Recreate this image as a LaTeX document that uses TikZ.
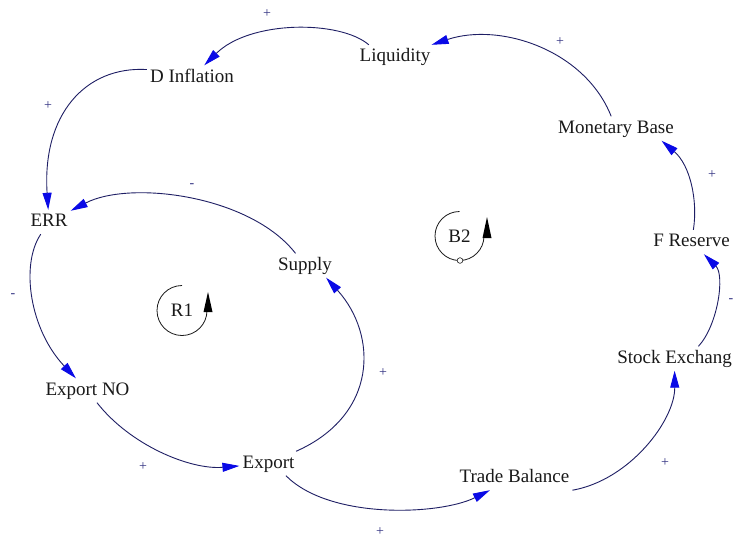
\documentclass[tikz,border=0pt]{standalone}
\usepackage{fontspec}
\setmainfont{Liberation Serif}
\usetikzlibrary{arrows.meta}
\definecolor{linenavy}{RGB}{30,30,100}
\definecolor{headblue}{RGB}{10,10,230}
\definecolor{polnavy}{RGB}{50,50,130}
\definecolor{txt}{RGB}{25,25,25}
\begin{document}
\begin{tikzpicture}[x=1pt,y=1pt,
 var/.style={font=\fontsize{19}{22}\selectfont, text=txt, text height=13.3pt, text depth=4.2pt, inner xsep=3pt, inner ysep=3.25pt},
 link/.style={draw=linenavy, line width=0.9pt, -{Triangle[length=17pt,width=9pt,color=headblue]}},
 pol/.style={font=\fontsize{14}{16}\selectfont, text=polnavy, inner sep=0pt},
 loopname/.style={font=\fontsize{19}{22}\selectfont, text=txt},
 loopline/.style={draw=txt, line width=0.8pt},
]
\useasboundingbox (0,0) rectangle (736,-539);
\fill[white] (0,0) rectangle (736,-539);
\clip (0,0) rectangle (736,-539);

% variables
\node[var] (liq)   at (395,-57)    {Liquidity};
\node[var] (dinf)  at (192,-77.5)  {D Inflation};
\node[var] (mb)    at (616,-128.5) {Monetary Base};
\node[var] (err)   at (49,-222)    {ERR};
\node[var] (sup)   at (305,-265.5) {Supply};
\node[var] (fres)  at (691.5,-242) {F Reserve};
\node[var] (expno) at (87.5,-390.5){Export NO};
\node[var] (sex)   at (674.5,-358.5){Stock Exchang};
\node[var] (exp)   at (268.5,-463.5){Export};
\node[var] (tb)    at (514.5,-478) {Trade Balance};

% links
\draw[link] (liq.155) .. controls (340,-20) and (250,-20) .. (dinf);
\draw[link] (mb) .. controls (585,-50) and (500,-22) .. (liq);
\draw[link] (dinf.170) .. controls (85,-66) and (42,-115) .. (err);
\draw[link] (sup) .. controls (250,-195) and (130,-180) .. (err);
\draw[link] (err) .. controls (20,-265) and (30,-330) .. (expno);
\draw[link] (expno) .. controls (130,-445) and (190,-470) .. (exp);
\draw[link] (exp) .. controls (378,-415) and (378,-335) .. (sup.-30);
\draw[link] (exp.-35) .. controls (330,-520) and (440,-515) .. (tb);
\draw[link] (tb.south east) .. controls (630,-480) and (675,-420) .. (sex);
\draw[link] (sex.27) .. controls (718,-325) and (725,-275) .. (fres);
\draw[link] (fres) .. controls (698,-200) and (690,-165) .. (mb.-15);

% polarities
\node[pol] (p1)  at (267,-14)  {+};
\node[pol] (p2)  at (560,-42)  {+};
\node[pol] (p3)  at (48,-106)  {+};
\node[pol] (p4)  at (192,-186) {-};
\node[pol] (p5)  at (712,-175) {+};
\node[pol] (p6)  at (13,-296)  {-};
\node[pol] (p7)  at (731,-301) {-};
\node[pol] (p8)  at (383,-373) {+};
\node[pol] (p9)  at (143,-467) {+};
\node[pol] (p10) at (665,-463) {+};
\node[pol] (p11) at (380,-532) {+};

% loop R1
\node[loopname] (r1) at (182,-310.5) {R1};
\draw[loopline] (182,-285.5) arc[start angle=90,end angle=360,radius=25];
\fill[black] (208,-292) -- (203.5,-312) -- (212.5,-312) -- cycle;

% loop B2
\node[loopname] (b2) at (459.5,-236.5) {B2};
\draw[loopline] (459.5,-211.5) arc[start angle=90,end angle=360,radius=24.5];
\fill[black] (487,-217) -- (482.5,-238) -- (491.5,-238) -- cycle;
\draw[loopline, fill=white, line width=0.6pt] (460,-260.5) circle[radius=2.8];
\end{tikzpicture}
\end{document}
